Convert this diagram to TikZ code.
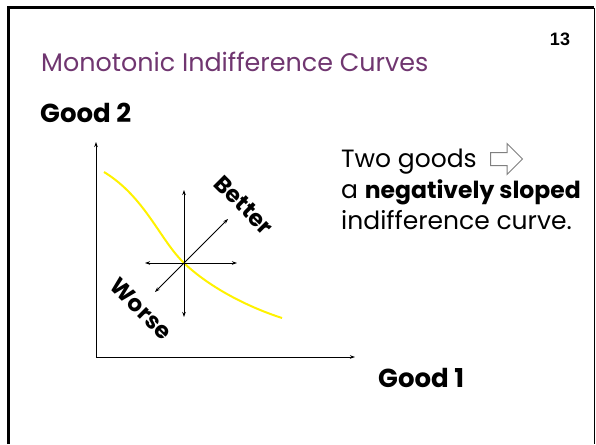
\documentclass[tikz,border=0pt]{standalone}
\usepackage{fontspec}
\setmainfont{Poppins}
\newfontfamily\numfont{Liberation Sans}
\usetikzlibrary{arrows.meta,shapes.arrows}
\definecolor{titlepurple}{RGB}{112,54,112}

\begin{document}
\begin{tikzpicture}[x=1pt,y=-1pt,
  axislbl/.style={font=\fontsize{26}{30}\selectfont\bfseries, inner sep=0pt},
  dirlbl/.style={font=\fontsize{23}{26}\selectfont\bfseries, rotate=-45, inner sep=0pt},
  bodytxt/.style={font=\fontsize{25}{29}\selectfont, anchor=base west, inner sep=0pt},
  dirarrow/.style={{Stealth[length=5pt,width=3.5pt]}-{Stealth[length=5pt,width=3.5pt]}, line width=1pt}]
\useasboundingbox (0,0) rectangle (596,444);
% slide frame
\draw[line width=3pt] (8,444) -- (8,8) -- (594,8);
\draw[line width=1pt] (594,8) -- (594,444);
\node[font=\numfont\fontsize{18}{20}\selectfont\bfseries] (pagenum) at (560,39) {13};
\node[anchor=base west, inner sep=0pt, text=titlepurple, font=\fontsize{25.4}{30}\selectfont]
  (title) at (41,71) {Monotonic Indifference Curves};

% axes
\coordinate (O) at (96,357);
\coordinate (ytop) at (96,142);
\coordinate (xend) at (355,357);
\draw[line width=1pt, -{Stealth[length=5pt,width=3.5pt]}] (O) -- (ytop);
\draw[line width=1pt, -{Stealth[length=5pt,width=3.5pt]}] (O) -- (xend);
\node[axislbl, anchor=base west] (good2) at (40,122) {Good 2};
\node[axislbl, anchor=west] (good1) at (378,378) {Good 1};

% directions
\coordinate (C) at (184,263);
\coordinate (up) at (184,190);
\coordinate (down) at (184,317);
\coordinate (left) at (145,263);
\coordinate (right) at (237,263);
\coordinate (ne) at (228,219);
\coordinate (sw) at (155,292);

% indifference curve
\draw[yellow, line width=2pt] (104,172) .. controls (145,197) and (160,240) .. (C)
  .. controls (208,286) and (245,306) .. (282,318);

\draw[dirarrow] (down) -- (up);
\draw[dirarrow] (left) -- (right);
\draw[dirarrow] (sw) -- (ne);
\node[dirlbl] (better) at (244,205) {Better};
\node[dirlbl] (worse) at (141,309) {Worse};

% text on the right
\node[bodytxt] (line1) at (341,167) {Two goods};
\node[single arrow, draw=gray, fill=white, line width=1pt, inner sep=6pt,
  minimum height=32pt, single arrow head extend=9pt, anchor=west] (implies) at (490,159) {};
\node[bodytxt] (line2) at (341,198) {a {\fontsize{23.5}{29}\selectfont\bfseries negatively sloped}};
\node[bodytxt] (line3) at (341,229) {indifference curve.};
\end{tikzpicture}
\end{document}
